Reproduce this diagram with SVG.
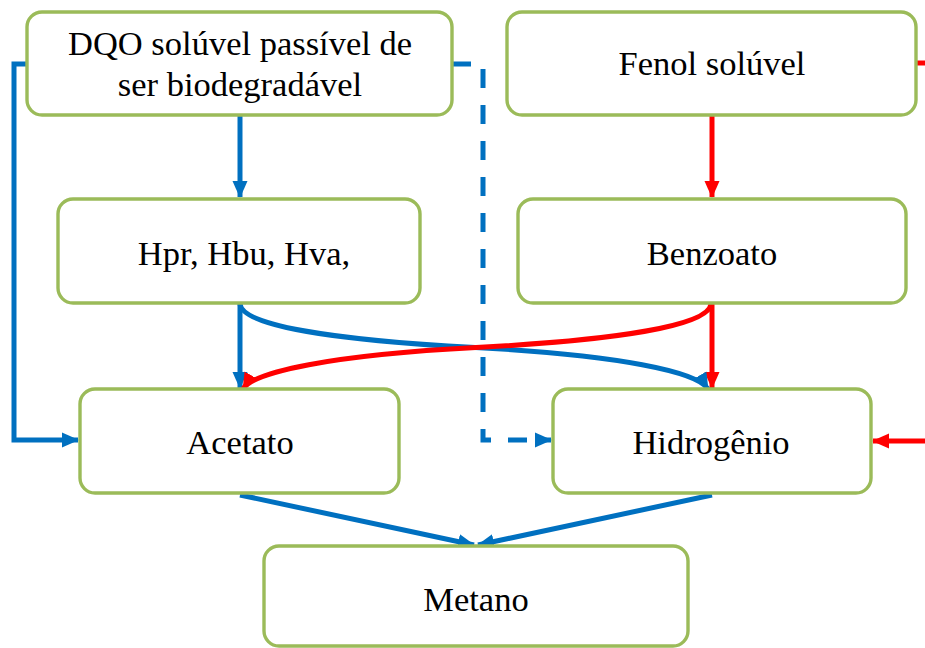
<svg xmlns="http://www.w3.org/2000/svg" width="925" height="648" viewBox="0 0 925 648">
<defs>
<marker id="ab" markerUnits="userSpaceOnUse" markerWidth="18" markerHeight="18" refX="16" refY="9" orient="auto" viewBox="0 0 18 18"><path d="M0,1.5 L17,9 L0,16.5 Z" fill="#0070C0"/></marker>
<marker id="ar" markerUnits="userSpaceOnUse" markerWidth="18" markerHeight="18" refX="16" refY="9" orient="auto" viewBox="0 0 18 18"><path d="M0,1.5 L17,9 L0,16.5 Z" fill="#FF0000"/></marker>
</defs>
<style>
.box{fill:#fff;stroke:#9BBB59;stroke-width:3.4}
.t{font-family:"Liberation Serif","Times New Roman",serif;font-size:34.5px;fill:#000;text-anchor:middle}
.b{fill:none;stroke:#0070C0;stroke-width:5}
.r{fill:none;stroke:#FF0000;stroke-width:5}
</style>
<g id="connectors">
<path class="b" d="M28,64 H14 V440 H78" marker-end="url(#ab)"/>
<path class="b" d="M452,64 H483 V440 H551" stroke-dasharray="19 17" marker-end="url(#ab)"/>
<path class="b" d="M240,116 V197" marker-end="url(#ab)"/>
<path class="r" d="M712,116 V197" marker-end="url(#ar)"/>
<path class="r" d="M917,63 H925"/>
<path class="r" d="M925,441 H873" marker-end="url(#ar)"/>
<path class="b" d="M240,304 V388" marker-end="url(#ab)"/>
<path class="r" d="M712,304 V388" marker-end="url(#ar)"/>
<path class="b" d="M240,304 C242,325 330,340 475,347.5 C620,355 698,372 708,389" marker-end="url(#ab)"/>
<path class="r" d="M711,304 C709,325 621,340 476,347.5 C331,355 253,372 243,389" marker-end="url(#ar)"/>
<path class="b" d="M240,495 L474,545" marker-end="url(#ab)"/>
<path class="b" d="M712,495 L478,545" marker-end="url(#ab)"/>
</g>
<g id="dqo"><rect class="box" x="27" y="12" width="425" height="103" rx="15"/><text class="t" x="240" y="55">DQO solúvel passível de</text><text class="t" x="240" y="96">ser biodegradável</text></g>
<g id="fenol"><rect class="box" x="507" y="12" width="409" height="103" rx="15"/><text class="t" x="712" y="75">Fenol solúvel</text></g>
<g id="hpr"><rect class="box" x="58" y="199" width="362" height="104" rx="15"/><text class="t" x="244" y="265">Hpr, Hbu, Hva,</text></g>
<g id="benzoato"><rect class="box" x="518" y="199" width="388" height="104" rx="15"/><text class="t" x="712" y="265">Benzoato</text></g>
<g id="acetato"><rect class="box" x="80" y="389" width="319" height="104" rx="15"/><text class="t" x="240" y="454">Acetato</text></g>
<g id="hidrogenio"><rect class="box" x="553" y="389" width="318" height="104" rx="15"/><text class="t" x="711" y="454">Hidrogênio</text></g>
<g id="metano"><rect class="box" x="264" y="546" width="424" height="100" rx="15"/><text class="t" x="476" y="611">Metano</text></g>
</svg>
